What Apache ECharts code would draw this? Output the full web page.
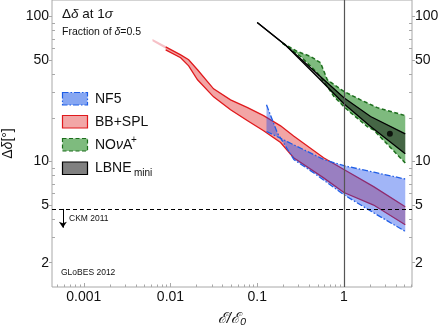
<!DOCTYPE html>
<html>
<head>
<meta charset="UTF-8">
<script src="https://cdn.jsdelivr.net/npm/echarts@6/dist/echarts.min.js"></script>
<title>Delta delta vs exposure</title>
<style>
  html, body { margin: 0; padding: 0; background: #fff; }
  #chart { width: 438px; height: 329px; }
</style>
</head>
<body>
<div id="chart"></div>
<script type="text/javascript">
// axis ranges and ticks
var xRange = [0.00043, 6.1];
var yRange = [1.36, 130];
var xTicks = [0.001, 0.01, 0.1, 1];
var xMinorTicks = [0.0005, 0.0006, 0.0007, 0.0008, 0.0009,
  0.002, 0.003, 0.004, 0.005, 0.006, 0.007, 0.008, 0.009,
  0.02, 0.03, 0.04, 0.05, 0.06, 0.07, 0.08, 0.09,
  0.2, 0.3, 0.4, 0.5, 0.6, 0.7, 0.8, 0.9,
  2, 3, 4, 5, 6];
var yTicks = [2, 5, 10, 50, 100];
var yMinorTicks = [3, 4, 6, 7, 8, 9, 20, 30, 40, 60, 70, 80, 90];

// bands: [E/E0, delta-delta]
var bbPaleUpper = [[0.0062, 70], [0.0088, 62.5]];
var bbPaleLower = [[0.0062, 67.5], [0.0088, 60]];
var bbUpper = [[0.0088, 61.8], [0.0131, 54.4], [0.0162, 50.3], [0.0205, 42.9], [0.0314, 31.7],
  [0.0493, 26.6], [0.0775, 23.5], [0.1185, 20.7], [0.186, 17.6], [0.263, 15.0],
  [0.583, 10.6], [1, 8.8], [2.2, 6.7], [5.1, 4.87]];
var bbLower = [[0.0088, 58.9], [0.0131, 51.9], [0.0162, 45.7], [0.0205, 36.6], [0.0314, 27.9],
  [0.0493, 22.7], [0.0775, 19.1], [0.1185, 16.3], [0.186, 13.5], [0.263, 10.6],
  [0.583, 7.7], [1, 6.1], [2.2, 5.0], [5.1, 3.66]];
var nf5EdgeA = [[0.128, 24.6], [0.171, 15.7], [0.265, 10.3], [0.451, 8.32], [1, 5.89], [2.22, 4.41], [5.1, 3.29]];
var nf5EdgeB = [[0.128, 16.1], [0.222, 13.7], [0.588, 10.3], [1, 9.34], [2.22, 8.43], [5.1, 7.56]];
var novaUpper = [[0.195, 65.6], [0.29, 57.4], [0.413, 53], [0.5385, 47.9], [0.643, 36.6],
  [1, 30.4], [1.558, 26.6], [2.43, 23.5], [5.1, 20.7]];
var novaLower = [[0.195, 65.6], [0.3165, 53], [0.493, 40.9], [0.643, 32.9], [0.767, 28.1],
  [1, 23.9], [1.195, 21.7], [1.861, 17.4], [2.2, 16.5], [5.1, 9.75]];
var lbneUpper = [[0.1, 90.9], [0.213, 63.3], [0.493, 40.3], [1, 27.5], [2.03, 20.4], [5.1, 15.5]];
var lbneLower = [[0.1, 90.9], [0.213, 63.3], [0.493, 38.4], [1, 25.0], [2.03, 17.4], [5.1, 11.3]];
var lbnePoint = [[3.39, 15.5]];
var ckmLimit = 4.7;
var ckmArrow = [[0.000574, 4.7], [0.000574, 3.49]];

var FONT = '"Liberation Sans", Arial, sans-serif';

// band = filled polygon + the two edge lines
function band(upper, lower, fill, edge, dash, lw) {
  return function (params, api) {
    if (params.dataIndex !== 0) return;
    var up = upper.map(function (p) { return api.coord(p); });
    var lo = lower.map(function (p) { return api.coord(p); });
    var edgeStyle = { stroke: edge, lineWidth: lw, lineDash: dash, fill: null };
    var kids = [{
      type: 'polygon',
      shape: { points: up.concat(lo.slice().reverse()) },
      style: { fill: fill, stroke: null }
    }];
    if (edge) {
      kids.push({ type: 'polyline', shape: { points: up }, style: edgeStyle });
      kids.push({ type: 'polyline', shape: { points: lo }, style: edgeStyle });
    }
    return { type: 'group', children: kids };
  };
}

function bandSeries(upper, lower, fill, edge, dash, lw) {
  return {
    type: 'custom',
    coordinateSystem: 'cartesian2d',
    renderItem: band(upper, lower, fill, edge, dash, lw),
    data: upper.concat(lower),
    silent: true,
    animation: false
  };
}

var chart = echarts.init(document.getElementById('chart'));

function logAxisX(extra) {
  return Object.assign({
    type: 'log', position: 'bottom', min: xRange[0], max: xRange[1],
    splitLine: { show: false },
    axisLine: { show: false }
  }, extra);
}
function logAxisY(pos, extra) {
  return Object.assign({
    type: 'log', position: pos, min: yRange[0], max: yRange[1],
    splitLine: { show: false },
    axisLine: { show: false }
  }, extra);
}

chart.setOption({
  animation: false,
  grid: {
    left: 52, right: 26, top: 0, bottom: 42, outerBoundsMode: 'none',
    show: true, borderColor: '#a8a8a8', borderWidth: 1
  },
  xAxis: [
    logAxisX({
      axisTick: { customValues: xTicks, inside: true, length: 4, lineStyle: { color: '#a8a8a8' } },
      axisLabel: {
        customValues: xTicks, margin: 3, color: '#111', fontSize: 14, fontFamily: FONT,
        formatter: function (v) { return String(v); }
      },
      name: 'ℰ/ℰ₀', nameLocation: 'middle', nameGap: 24,
      nameTextStyle: { fontSize: 15, fontStyle: 'italic', color: '#111', fontFamily: FONT }
    }),
    logAxisX({
      axisTick: { customValues: xMinorTicks, inside: true, length: 2.5, lineStyle: { color: '#a8a8a8' } },
      axisLabel: { show: false }
    })
  ],
  yAxis: [
    logAxisY('left', {
      axisTick: { customValues: yTicks, inside: false, length: 3, lineStyle: { color: '#a8a8a8' } },
      axisLabel: {
        customValues: yTicks, margin: 3, color: '#111', fontSize: 14, fontFamily: FONT,
        formatter: function (v) { return String(v); }
      },
      name: '{a|Δ}{b|δ}{a|[°]}', nameLocation: 'middle', nameGap: 32, nameRotate: 90,
      nameTextStyle: {
        rich: {
          a: { fontSize: 14, color: '#111', fontFamily: FONT },
          b: { fontSize: 14, color: '#111', fontFamily: FONT, fontStyle: 'italic' }
        }
      }
    }),
    logAxisY('left', {
      axisTick: { customValues: yMinorTicks, inside: true, length: 3, lineStyle: { color: '#a8a8a8' } },
      axisLabel: { show: false }
    }),
    logAxisY('right', {
      axisTick: { customValues: yTicks, inside: false, length: 3, lineStyle: { color: '#a8a8a8' } },
      axisLabel: {
        customValues: yTicks, margin: 3, color: '#111', fontSize: 14, fontFamily: FONT,
        formatter: function (v) { return String(v); }
      }
    }),
    logAxisY('right', {
      axisTick: { customValues: yMinorTicks, inside: true, length: 3, lineStyle: { color: '#a8a8a8' } },
      axisLabel: { show: false }
    })
  ],
  series: [
    bandSeries(bbPaleUpper, bbPaleLower, 'rgba(240,150,160,0.6)', null, null, 0),
    bandSeries(bbUpper, bbLower, 'rgba(222,30,30,0.4)', '#e0191c', null, 1.3),
    bandSeries(nf5EdgeA, nf5EdgeB, 'rgba(20,70,235,0.4)', '#1f5ee6', [6, 2, 1.5, 2], 1.3),
    bandSeries(novaUpper, novaLower, 'rgba(40,140,40,0.6)', '#1c6e1c', [4, 2.5], 1.5),
    bandSeries(lbneUpper, lbneLower, 'rgba(0,0,0,0.45)', '#000', null, 1.3),
    {
      type: 'scatter', data: lbnePoint, symbolSize: 6,
      itemStyle: { color: '#000' }, silent: true
    },
    {
      type: 'line', data: [], silent: true,
      markLine: {
        silent: true, symbol: 'none', label: { show: false },
        lineStyle: { color: '#555', width: 1.2, type: 'solid' },
        data: [{ xAxis: 1 }]
      }
    },
    {
      type: 'line', data: [], silent: true,
      markLine: {
        silent: true, symbol: 'none', label: { show: false },
        lineStyle: { color: '#000', width: 1, type: [4, 3] },
        data: [{ yAxis: ckmLimit }]
      }
    },
    {
      type: 'line', data: [], silent: true,
      markLine: {
        silent: true, symbol: ['none', 'arrow'], symbolSize: 6, label: { show: false },
        lineStyle: { color: '#000', width: 1, type: 'solid' },
        data: [[{ coord: ckmArrow[0] }, { coord: ckmArrow[1] }]]
      }
    }
  ],
  graphic: [
    { type: 'text', x: 62, y: 14, style: {
      text: '{a|Δ}{i|δ}{a| at 1}{i|σ}', verticalAlign: 'middle',
      rich: {
        a: { fontSize: 13.5, fill: '#111', fontFamily: FONT },
        i: { fontSize: 13.5, fill: '#111', fontFamily: FONT, fontStyle: 'italic' }
      } } },
    { type: 'text', x: 62, y: 32, style: {
      text: '{a|Fraction of }{i|δ}{a|=0.5}', verticalAlign: 'middle',
      rich: {
        a: { fontSize: 10.5, fill: '#111', fontFamily: FONT },
        i: { fontSize: 10.5, fill: '#111', fontFamily: FONT, fontStyle: 'italic' }
      } } },
    { type: 'text', x: 69, y: 219, style: { text: 'CKM 2011', fontSize: 8.5, fontFamily: FONT, fill: '#111', verticalAlign: 'middle' } },
    { type: 'text', x: 61, y: 273, style: { text: 'GLoBES 2012', fontSize: 8.5, fontFamily: FONT, fill: '#111', verticalAlign: 'middle' } },
    // legend
    { type: 'rect', shape: { x: 62.5, y: 92.5, width: 25, height: 12.5 },
      style: { fill: '#86a6f2', stroke: '#1f5ee6', lineWidth: 1.2, lineDash: [6, 2, 1.5, 2] } },
    { type: 'rect', shape: { x: 62.5, y: 115.5, width: 25, height: 12.5 },
      style: { fill: '#f2a6a6', stroke: '#e0191c', lineWidth: 1.2 } },
    { type: 'rect', shape: { x: 62.5, y: 138.5, width: 25, height: 12.5 },
      style: { fill: '#7ebb7e', stroke: '#1c6e1c', lineWidth: 1.2, lineDash: [4, 2.5] } },
    { type: 'rect', shape: { x: 62.5, y: 162, width: 25, height: 12.5 },
      style: { fill: '#808080', stroke: '#000', lineWidth: 1.2 } },
    { type: 'text', x: 95, y: 99, style: { text: 'NF5', fontSize: 14, fontFamily: FONT, fill: '#111', verticalAlign: 'middle' } },
    { type: 'text', x: 95, y: 122, style: { text: 'BB+SPL', fontSize: 14, fontFamily: FONT, fill: '#111', verticalAlign: 'middle' } },
    { type: 'text', x: 95, y: 145, style: {
      text: '{a|NO}{i|ν}{a|A}', verticalAlign: 'middle',
      rich: {
        a: { fontSize: 14, fill: '#111', fontFamily: FONT },
        i: { fontSize: 14, fill: '#111', fontFamily: FONT, fontStyle: 'italic' }
      } } },
    { type: 'text', x: 131, y: 140, style: { text: '+', fontSize: 10, fontFamily: FONT, fill: '#111', verticalAlign: 'middle' } },
    { type: 'text', x: 95, y: 168, style: { text: 'LBNE', fontSize: 14, fontFamily: FONT, fill: '#111', verticalAlign: 'middle' } },
    { type: 'text', x: 134, y: 173, style: { text: 'mini', fontSize: 10, fontFamily: FONT, fill: '#111', verticalAlign: 'middle' } }
  ]
});
</script>
</body>
</html>
